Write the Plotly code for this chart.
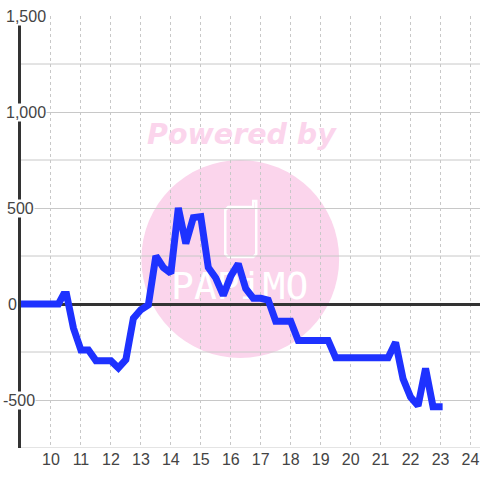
import plotly.graph_objects as go

hours = [8.9, 10.25, 10.42, 10.52, 10.75, 11, 11.25, 11.5, 12, 12.25, 12.5, 12.75, 13, 13.25, 13.5, 13.75, 14, 14.25,
         14.5, 14.75, 15, 15.25, 15.5, 15.75, 16, 16.25, 16.5, 16.75, 17, 17.25, 17.5, 18, 18.25, 19.25, 19.5,
         21.25, 21.5, 21.75, 22, 22.25, 22.5, 22.75, 23.07]
balance = [0, 0, 50, 50, -125, -240, -240, -295, -295, -333, -290, -75, -30, -5, 250, 190, 160, 500,
           315, 450, 455, 190, 135, 45, 145, 210, 80, 30, 30, 20, -90, -90, -190, -190, -280,
           -280, -200, -390, -485, -530, -335, -535, -535]
x_ticks = list(range(10, 25))
y_major = [1500, 1000, 500, 0, -500]
y_labels = ["1,500", "1,000", "500", "0", "-500"]
y_minor = [1250, 750, 250, -250, -750]

PINK = "#fbd5ec"
GRID = "#c8c8c8"
DARK = "#333333"


def px(p):
    return (p - 20.5) / 459.5


def py(p):
    return (448 - p) / 432


fig = go.Figure()
fig.add_trace(go.Scatter(x=[16.3], y=[73], mode="text", text=["PAPiMO"], hoverinfo="skip", textposition="middle center",
                         textfont=dict(family="DejaVu Sans Mono", size=38, color="white"), cliponaxis=False))
fig.add_trace(go.Scatter(x=hours, y=balance, mode="lines", hoverinfo="skip", cliponaxis=False,
                         line=dict(color="#1e32ff", width=7)))

fig.add_shape(type="circle", xref="paper", yref="paper", layer="below", line_width=0, fillcolor=PINK,
              x0=px(141), x1=px(339), y0=py(358), y1=py(160))
phone = (f"M {px(253):.4f} {py(207):.4f} L {px(228):.4f} {py(207):.4f} L {px(225):.4f} {py(210):.4f} "
         f"L {px(225):.4f} {py(254):.4f} L {px(228):.4f} {py(257):.4f} L {px(253):.4f} {py(257):.4f} "
         f"L {px(256):.4f} {py(254):.4f} L {px(256):.4f} {py(201):.4f} L {px(253):.4f} {py(201):.4f} Z")
fig.add_shape(type="path", xref="paper", yref="paper", layer="below", line=dict(color="white", width=2.5),
              fillcolor="rgba(0,0,0,0)", path=phone)
fig.add_annotation(xref="paper", yref="paper", x=px(241.5), y=py(134), yanchor="middle", text="<b><i>Powered by</i></b>",
                   showarrow=False, font=dict(family="DejaVu Sans", size=28.5, color=PINK))

for v in y_minor:
    fig.add_shape(type="line", xref="paper", yref="y", x0=0, x1=1, y0=v, y1=v, layer="between",
                  line=dict(color=GRID, width=1))

for lab, v, xl in zip(y_labels, y_major, [4, 4, 5, 6.5, 1]):
    fig.add_annotation(xref="paper", yref="y", x=px(xl), y=v, text=lab, showarrow=False, xanchor="left",
                       borderpad=0, bgcolor="white", font=dict(family="Liberation Sans", size=16, color="#444444"))

fig.update_layout(width=480, height=480, margin=dict(l=20.5, r=0, t=16, b=32), showlegend=False,
                  plot_bgcolor="white", paper_bgcolor="white")
fig.update_xaxes(range=[9, 24.317], tickmode="array", tickvals=x_ticks, ticktext=[str(t) for t in x_ticks], ticks="",
                 tickfont=dict(family="Liberation Sans", size=16, color="#444444"), showgrid=True,
                 gridcolor=GRID, griddash="dot", gridwidth=1, zeroline=False, showline=False, layer="below traces")
fig.update_yaxes(range=[-750, 1500], tickmode="array", tickvals=y_major, showticklabels=False, ticks="",
                 showgrid=True, gridcolor=GRID, gridwidth=1, zeroline=True, zerolinecolor=DARK, zerolinewidth=3,
                 showline=True, linecolor=DARK, linewidth=3, layer="below traces")
fig.write_html("out.html", config={"displayModeBar": False},
               post_script="document.body.style.margin='0';"
                           "document.querySelectorAll('.js-line').forEach(function(l){l.style.strokeLinejoin='miter';});")
